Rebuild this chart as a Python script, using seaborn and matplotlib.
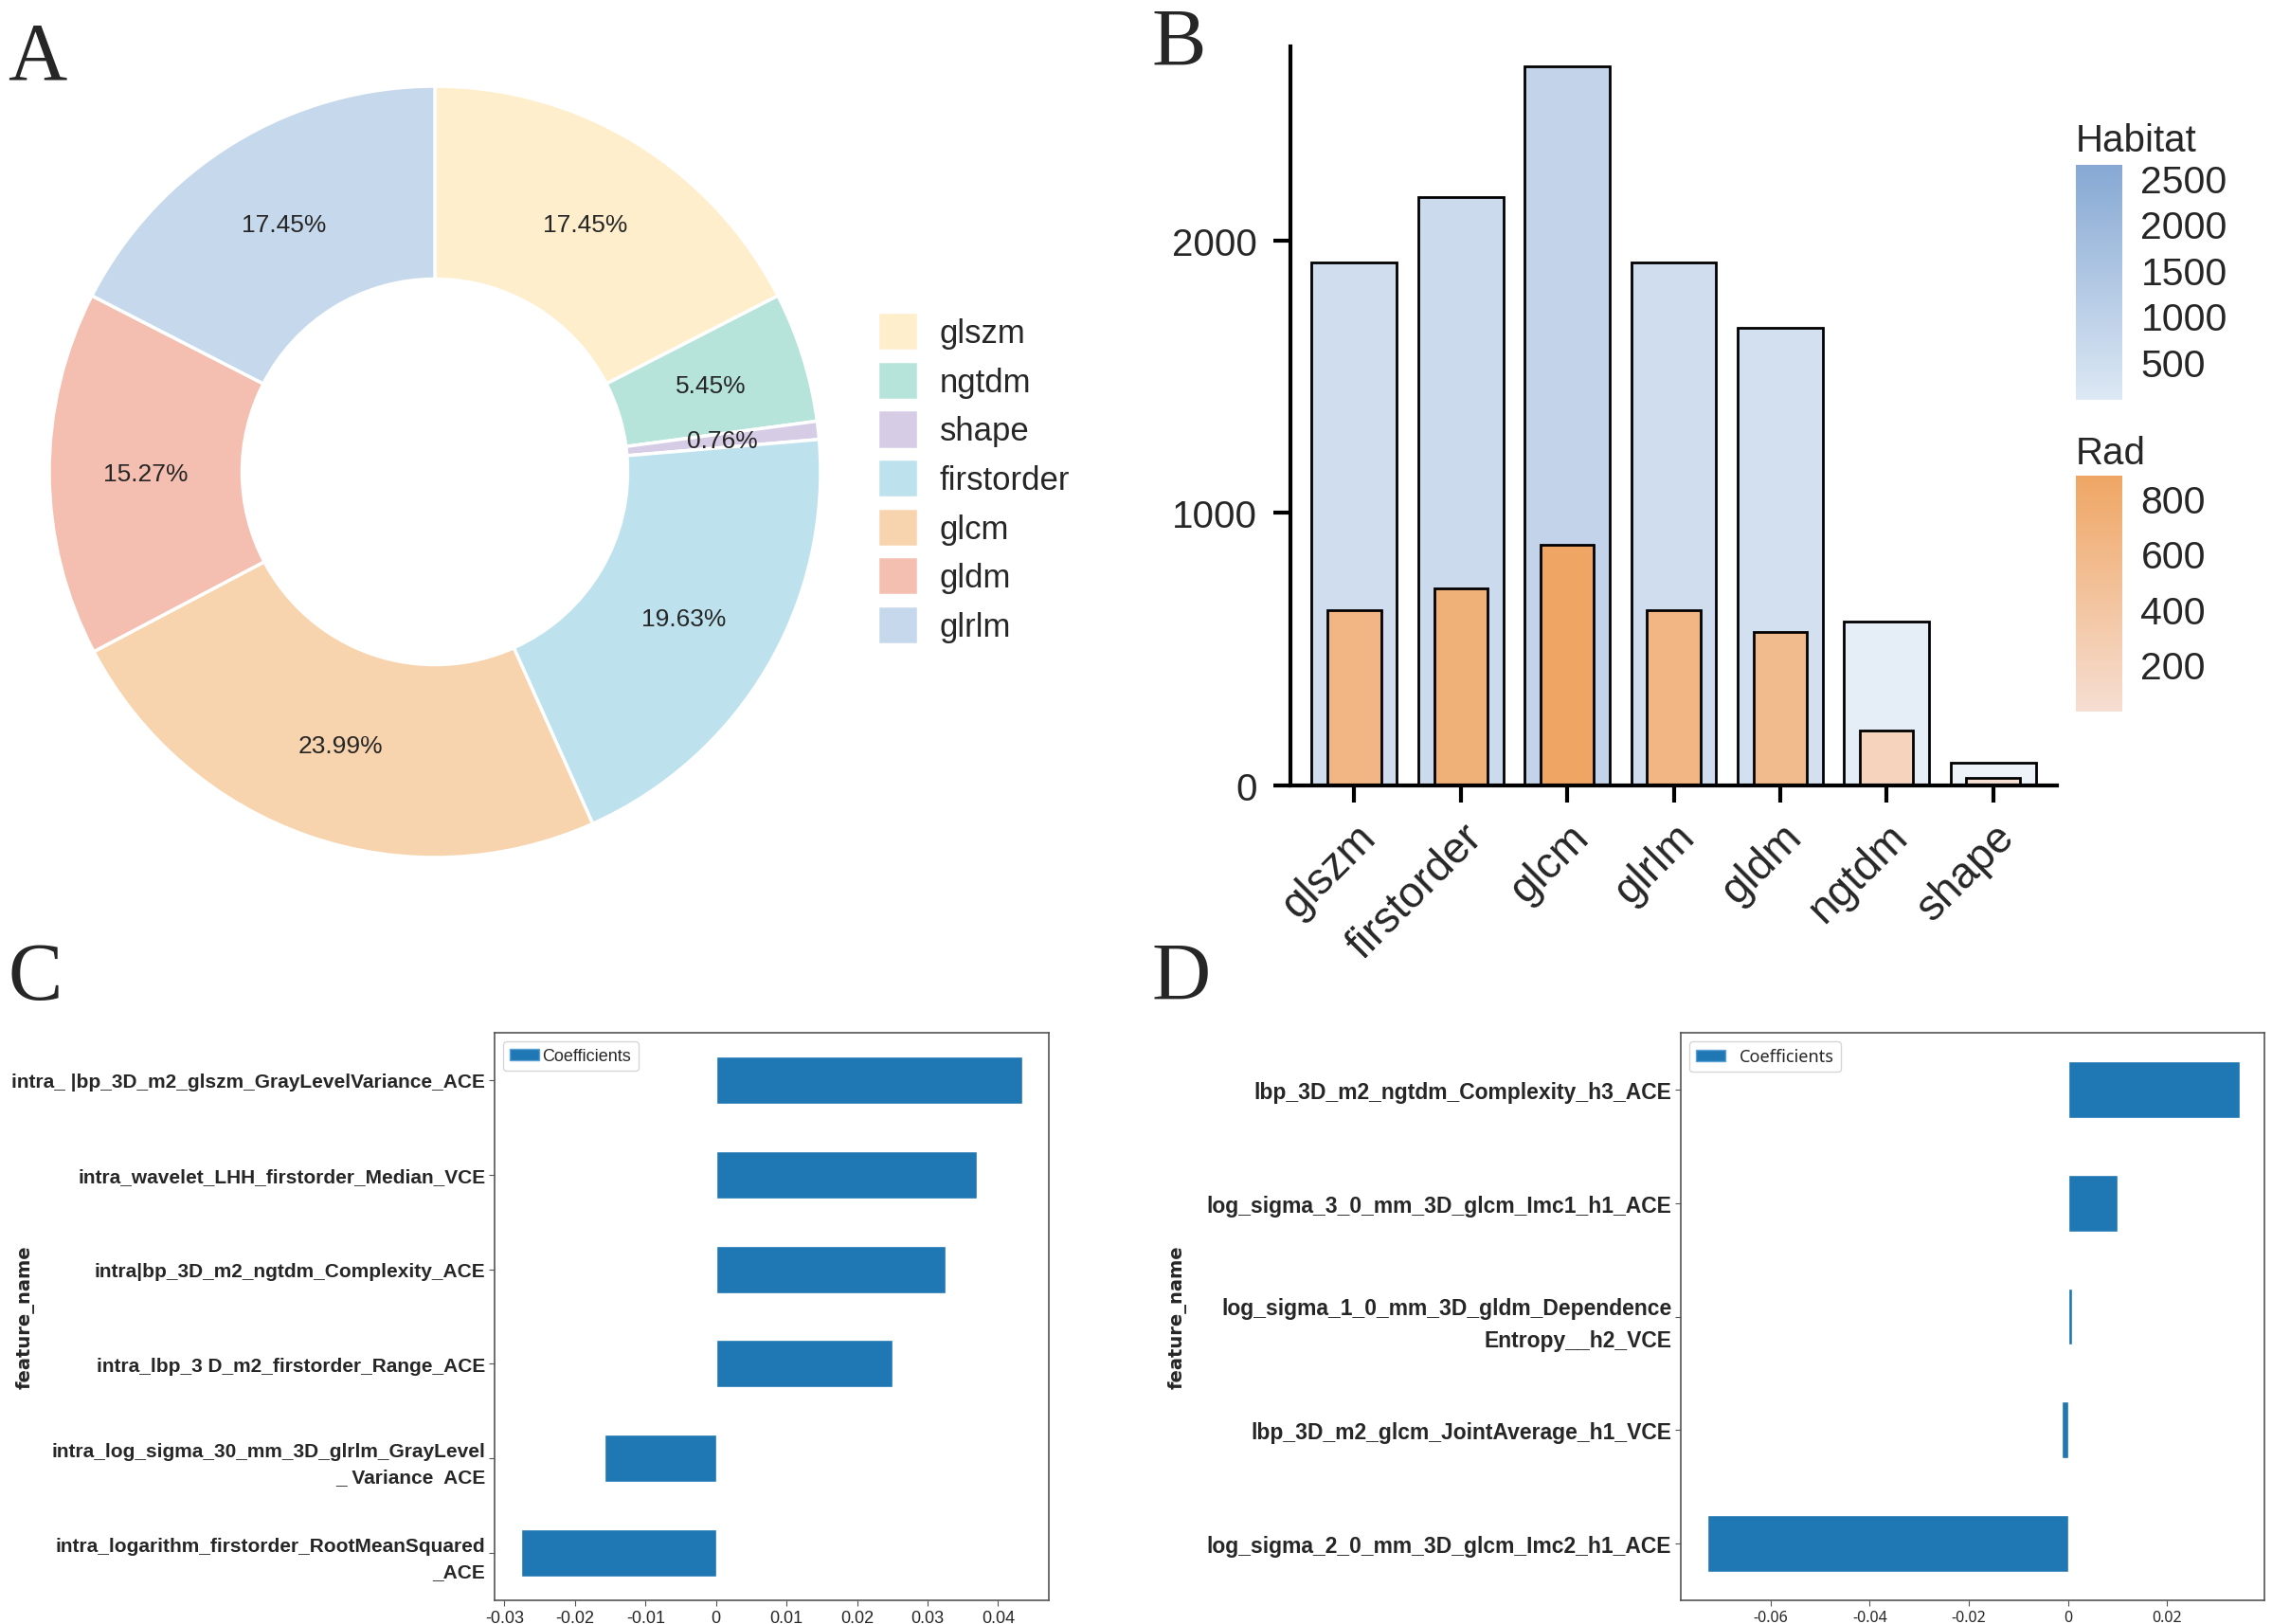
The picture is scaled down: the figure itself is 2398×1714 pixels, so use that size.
import numpy as np
import pandas as pd
import matplotlib
matplotlib.use("Agg")
import matplotlib.pyplot as plt
import seaborn as sns
from matplotlib.colors import LinearSegmentedColormap, Normalize
from matplotlib.cm import ScalarMappable
from matplotlib.patches import Patch

# A: share of features per class (%)
pie_classes = ["glszm", "ngtdm", "shape", "firstorder", "glcm", "gldm", "glrlm"]
pie_share = [17.45, 5.45, 0.76, 19.63, 23.99, 15.27, 17.45]
pie_colors = ["#FFEECB", "#B7E4DA", "#D6CCE6", "#BDE2EE", "#F8D4AE", "#F4BFB0", "#C6D9EC"]

# B: feature counts per class
bar_classes = ["glszm", "firstorder", "glcm", "glrlm", "gldm", "ngtdm", "shape"]
habitat_counts = [1920, 2160, 2640, 1920, 1680, 600, 85]
rad_counts = [642, 722, 883, 642, 562, 200, 28]

# C: coefficients
c_features = ["intra_ |bp_3D_m2_glszm_GrayLevelVariance_ACE",
              "intra_wavelet_LHH_firstorder_Median_VCE",
              "intra|bp_3D_m2_ngtdm_Complexity_ACE",
              "intra_lbp_3 D_m2_firstorder_Range_ACE",
              "intra_log_sigma_30_mm_3D_glrlm_GrayLevel\n_ Variance  ACE",
              "intra_logarithm_firstorder_RootMeanSquared\n_ACE"]
c_coefs = [0.0435, 0.0370, 0.0325, 0.0250, -0.0158, -0.0277]
c_ticks = [-0.03, -0.02, -0.01, 0, 0.01, 0.02, 0.03, 0.04]
c_ticklabels = ["-0.03", "-0.02", "-0.01", "0", "0.01", "0.02", "0.03", "0.04"]

# D: coefficients
d_features = ["lbp_3D_m2_ngtdm_Complexity_h3_ACE",
              "log_sigma_3_0_mm_3D_glcm_Imc1_h1_ACE",
              "log_sigma_1_0_mm_3D_gldm_Dependence\nEntropy__h2_VCE",
              "lbp_3D_m2_glcm_JointAverage_h1_VCE",
              "log_sigma_2_0_mm_3D_glcm_Imc2_h1_ACE"]
d_coefs = [0.0347, 0.0099, 0.0008, -0.0013, -0.0727]
d_ticks = [-0.06, -0.04, -0.02, 0, 0.02]
d_ticklabels = ["-0.06", "-0.04", "-0.02", "0", "0.02"]

sns.set_style("white")
plt.rcParams["font.family"] = ["Liberation Sans", "DejaVu Sans"]

W, H = 2398, 1715
fig = plt.figure(figsize=(W / 100, H / 100), dpi=100)


def box(x0, y0, x1, y1):
    # pixel box (top-left origin) -> figure fraction rect
    return [x0 / W, 1 - y1 / H, (x1 - x0) / W, (y1 - y0) / H]


# ---- A: donut
axa = fig.add_axes(box(52, 92, 866, 906))
wedges, _, autotexts = axa.pie(pie_share, colors=pie_colors, startangle=90, counterclock=False,
                               autopct="%.2f%%", pctdistance=0.75,
                               wedgeprops=dict(width=0.5, edgecolor="white", linewidth=2.5),
                               textprops=dict(fontsize=19))
axa.set_xlim(-1, 1)
axa.set_ylim(-1, 1)
axa.set_aspect("equal")
fig.legend(wedges, pie_classes, loc="upper left", bbox_to_anchor=(926 / W, 1 - 330 / H),
           frameon=False, fontsize=25, handlelength=1.25, handleheight=1.45,
           labelspacing=0.3, handletextpad=0.65, borderpad=0, borderaxespad=0)

# ---- B: bars
axb = fig.add_axes(box(1362, 50, 2171, 830))
hab_cmap = LinearSegmentedColormap.from_list("hab", ["#DCE8F4", "#86A8D3"])
rad_cmap = LinearSegmentedColormap.from_list("rad", ["#F6DED2", "#EFA664"])
hab_norm = Normalize(min(habitat_counts), max(habitat_counts))
rad_norm = Normalize(min(rad_counts), max(rad_counts))
hab_pal = [tuple(0.5 * np.array(hab_cmap(hab_norm(v))[:3]) + 0.5) for v in habitat_counts]
rad_pal = [tuple(rad_cmap(rad_norm(v))[:3]) for v in rad_counts]

dfb = pd.DataFrame({"cls": bar_classes, "habitat": habitat_counts, "rad": rad_counts})
sns.barplot(data=dfb, x="cls", y="habitat", hue="cls", palette=hab_pal, width=0.8,
            saturation=1, edgecolor="black", linewidth=2, legend=False, ax=axb)
sns.barplot(data=dfb, x="cls", y="rad", hue="cls", palette=rad_pal, width=0.5,
            saturation=1, edgecolor="black", linewidth=2, legend=False, ax=axb)
axb.set_xlim(-0.6, 6.6)
axb.set_ylim(0, 2713)
axb.set_yticks([0, 1000, 2000])
axb.set_xlabel("")
axb.set_ylabel("")
sns.despine(ax=axb)
for s in ["left", "bottom"]:
    axb.spines[s].set_linewidth(3)
    axb.spines[s].set_color("black")
axb.tick_params(axis="both", direction="out", length=13, width=3, color="black", left=True, bottom=True)
axb.tick_params(axis="y", labelsize=29, pad=12)
axb.tick_params(axis="x", labelsize=33, pad=10)
for lab in axb.get_xticklabels():
    lab.set_rotation(45)
    lab.set_ha("right")
    lab.set_va("top")
    lab.set_rotation_mode("anchor")

# colorbars
for rect, cmap, norm, ticks, title, ty in [
        (box(2191, 175, 2240, 423), hab_cmap, hab_norm, [500, 1000, 1500, 2000, 2500], "Habitat", 160),
        (box(2191, 503, 2240, 752), rad_cmap, rad_norm, [200, 400, 600, 800], "Rad", 490)]:
    cax = fig.add_axes(rect)
    cb = fig.colorbar(ScalarMappable(norm=norm, cmap=cmap), cax=cax, ticks=ticks)
    cb.outline.set_visible(False)
    cax.tick_params(direction="in", color="white", length=7, width=1.5, left=True, right=True,
                    labelsize=29.5, pad=14)
    fig.text(2191 / W, 1 - ty / H, title, fontsize=29, ha="left", va="baseline")


# ---- C / D: coefficient bars
def coef_panel(rect, feats, coefs, ticks, ticklabels, xlim, legend_font, tick_font, tick_size,
               ylab_size, label_x, textpad, linesp):
    ax = fig.add_axes(rect)
    df = pd.DataFrame({"feature_name": feats, "coef": coefs})
    sns.barplot(data=df, x="coef", y="feature_name", orient="y", color="#1f77b4",
                saturation=1, width=0.5, ax=ax)
    ax.set_xlim(*xlim)
    ax.set_ylim(len(feats) - 0.5, -0.5)
    ax.set_xticks(ticks)
    ax.set_xticklabels(ticklabels, fontfamily=tick_font, fontsize=tick_size)
    ax.set_xlabel("")
    for lab in ax.get_yticklabels():
        lab.set_fontweight("bold")
        lab.set_fontsize(ylab_size)
        lab.set_linespacing(linesp)
    ax.tick_params(axis="both", length=4, width=0.8, color="#555555", left=True, bottom=True, pad=3)
    for s in ax.spines.values():
        s.set_color("#555555")
        s.set_linewidth(1.2)
    ax.set_ylabel("feature_name", fontfamily="DejaVu Sans", fontweight="bold", fontsize=14)
    ax.yaxis.set_label_coords(label_x, 0.5)
    ax.legend(handles=[Patch(facecolor="#1f77b4", edgecolor="#5fa2d6")], labels=["Coefficients"],
              loc="upper left", prop=dict(family=legend_font, size=13), handlelength=1.7,
              handleheight=0.6, handletextpad=textpad, borderaxespad=0.5)
    return ax


coef_panel(box(522, 1091, 1107, 1690), c_features, c_coefs, c_ticks, c_ticklabels,
           (-0.0314, 0.0472), ["Liberation Sans"], ["Liberation Sans"], 13, 15, -0.83, 0.2, 1.55)
coef_panel(box(1774, 1091, 2390, 1690), d_features, d_coefs, d_ticks, d_ticklabels,
           (-0.0781, 0.0396), ["Noto Sans"], ["Noto Sans"], 11.5, 16.5, -0.846, 0.8, 1.6)

# panel letters
for letter, x, y in [("A", 8, 84), ("B", 1216, 69), ("C", 8, 1055), ("D", 1216, 1055)]:
    fig.text(x / W, 1 - y / H, letter, fontsize=62, fontfamily="Liberation Serif",
             ha="left", va="baseline")

fig.savefig("out.png", dpi=100)
